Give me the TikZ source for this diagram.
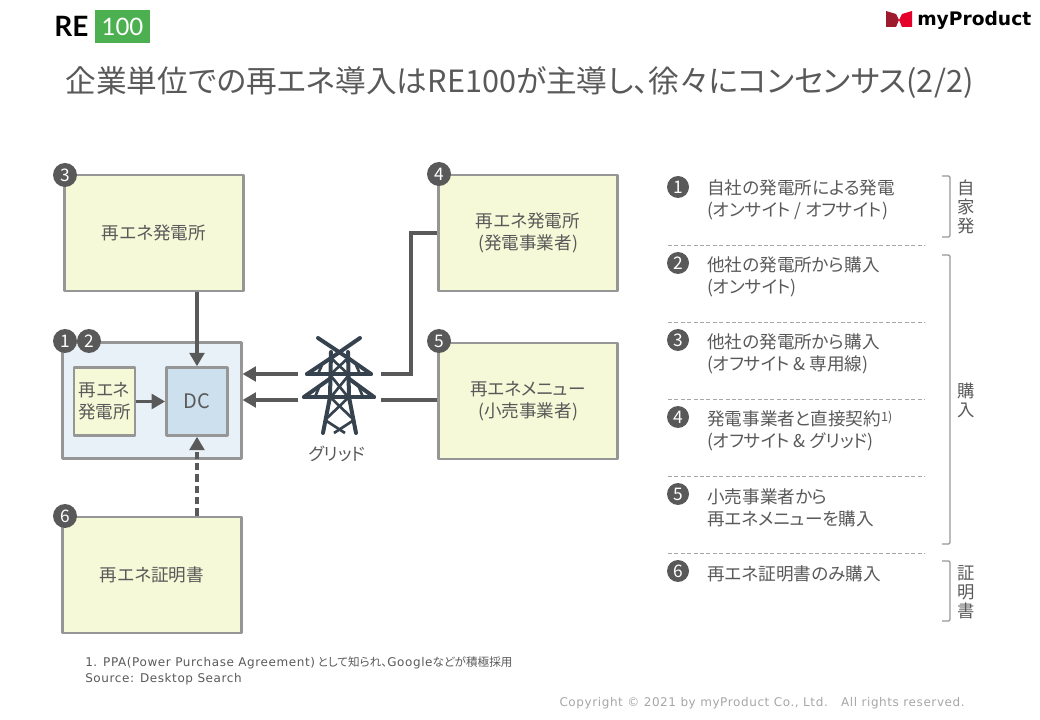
\documentclass[tikz,border=0pt]{standalone}
\usepackage{fontspec}
\setmainfont[RawFeature=+palt]{Noto Sans CJK JP}
\newfontfamily\latinfont[LetterSpace=5]{DejaVu Sans}
\newfontfamily\productfont{DejaVu Sans}
\newfontfamily\logofont{Lato}
\usetikzlibrary{arrows.meta}
\definecolor{inkgray}{HTML}{595959}
\definecolor{edgegray}{HTML}{969696}
\definecolor{sepgray}{HTML}{A6A6A6}
\definecolor{plantfill}{HTML}{F5F9D8}
\definecolor{sitefill}{HTML}{E8F1F7}
\definecolor{dcfill}{HTML}{CCE0EE}
\definecolor{towerink}{HTML}{36434F}
\definecolor{logogreen}{HTML}{4CAF50}
\definecolor{bowleft}{HTML}{9E1B2E}
\definecolor{bowright}{HTML}{E4002B}
\tikzset{
  bodytext/.style={text=inkgray, inner sep=0pt, align=center, font=\fontsize{13.2}{16.5}\selectfont},
  listtext/.style={bodytext, anchor=west, align=left},
  sidetext/.style={text=inkgray, inner sep=0pt, align=center, font=\fontsize{13}{14.25}\selectfont},
  plantbox/.style={bodytext, draw=edgegray, fill=plantfill, line width=1.9pt, line join=round, minimum width=134pt, minimum height=87pt},
  smallbox/.style={bodytext, draw=edgegray, line width=1.9pt, line join=round, minimum width=46pt, minimum height=51pt},
  badge/.style={circle, fill=inkgray, text=white, inner sep=0pt, font=\fontsize{13}{13}\selectfont},
  feed/.style={draw=inkgray, line width=2.4pt},
  feedarrow/.style={feed, -{Triangle[length=10pt,width=11pt]}},
  sepline/.style={draw=sepgray, line width=0.6pt, dash pattern=on 3pt off 1.8pt},
  bracket/.style={draw=edgegray, line width=0.9pt, rounded corners=1pt},
  towerline/.style={draw=towerink, line width=3pt, line cap=round, line join=round},
  towerbrace/.style={draw=towerink, line width=2pt},
  smallnote/.style={text=inkgray, inner sep=0pt, anchor=west, font=\fontsize{8.7}{8.7}\selectfont},
}
\begin{document}
\begin{tikzpicture}[x=0.75pt,y=-0.75pt]
\useasboundingbox (0,0) rectangle (1040,720);
\node[inner sep=0pt, anchor=west, font=\logofont\bfseries\fontsize{21}{21}\selectfont] (logore) at (54,26) {RE};
\node[fill=logogreen, text=white, inner sep=0pt, minimum width=41pt, minimum height=25pt, font=\logofont\fontsize{18}{18}\selectfont] (logohundred) at (122.5,26.5) {100};
\fill[bowleft] (886,11) -- (896,14) -- (899,20) -- (896,27) -- (886,27) -- cycle;
\fill[bowright] (912,11) -- (902,14) -- (899,20) -- (902,27) -- (912,27) -- cycle;
\node[inner sep=0pt, anchor=west, font=\productfont\bfseries\fontsize{14}{14}\selectfont] (logoproduct) at (917,20) {myProduct};
\node[text=inkgray, inner sep=0pt, font=\fontsize{23}{23}\selectfont] (title) at (519.5,83) {企業単位での再エネ導入はRE100が主導し、徐々にコンセンサス(2/2)};

\node[plantbox] (plantc) at (154,233) {再エネ発電所};
\node[plantbox] (plantd) at (528,233) {再エネ発電所\\(発電事業者)};
\node[plantbox] (menue) at (528,401) {再エネメニュー\\(小売事業者)};
\node[plantbox] (certf) at (152,575) {再エネ証明書};
\node[draw=edgegray, fill=sitefill, line width=1.9pt, line join=round, minimum width=134pt, minimum height=87pt] (site) at (152,400.5) {};
\node[smallbox, fill=plantfill] (sitepv) at (104.5,401.5) {再エネ\\発電所};
\node[smallbox, fill=dcfill, font=\fontsize{15}{15}\selectfont] (dc) at (197,401.5) {DC};

\coordinate (gridupper) at (298,374);
\coordinate (gridlower) at (298,400);
\coordinate (feedupper) at (381,374);
\coordinate (feedlower) at (381,400);
\coordinate (feedbend) at (411,374);
\draw[feedarrow] (plantc.south -| dc.north) -- (dc.north);
\draw[feedarrow] (sitepv) ++(31,0) -- (dc.west);
\draw[feedarrow, dash pattern=on 5.5pt off 3pt] (certf.north -| dc.south) -- (dc.south);
\draw[feedarrow] (gridupper) -- (site.east |- gridupper);
\draw[feedarrow] (gridlower) -- (site.east |- gridlower);
\draw[feed] (feedupper) -- (feedbend) -- (feedbend |- plantd.west) -- (plantd.west);
\draw[feed] (feedlower) -- (feedlower -| menue.west);

\draw[towerline] (318,338) -- (348,358);
\draw[towerline] (360,338) -- (331,358);
\draw[towerline] (331,352) -- (330,397) -- (323,433);
\draw[towerline] (348,352) -- (349,397) -- (356,433);
\draw[towerline] (307,374) -- (371,374);
\draw[towerline] (304,397) -- (374,397);
\draw[towerline] (307,374) -- (331,358);
\draw[towerline] (371,374) -- (348,358);
\draw[towerline] (304,397) -- (331,378);
\draw[towerline] (374,397) -- (348,378);
\draw[towerbrace] (331,358) -- (348,374);
\draw[towerbrace] (348,358) -- (331,374);
\draw[towerbrace] (331,376) -- (348,397);
\draw[towerbrace] (348,376) -- (331,397);
\draw[towerbrace] (330,397) -- (354,420);
\draw[towerbrace] (349,397) -- (325,420);
\draw[towerbrace] (325,420) -- (345,433);
\draw[towerbrace] (354,420) -- (334,433);
\draw[towerbrace] (318,374) -- (322,365);
\draw[towerbrace] (360,374) -- (356,365);
\draw[towerbrace] (315,397) -- (320,385);
\draw[towerbrace] (363,397) -- (358,385);
\node[text=inkgray, inner sep=0pt, font=\fontsize{13}{13}\selectfont] (gridlabel) at (337,454) {グリッド};

\node[badge, minimum size=18pt] (tagc) at (65,175) {3};
\node[badge, minimum size=18pt] (tagd) at (439,174) {4};
\node[badge, minimum size=18pt] (taga) at (65,341) {1};
\node[badge, minimum size=18pt] (tagb) at (89,341) {2};
\node[badge, minimum size=18pt] (tage) at (439,341) {5};
\node[badge, minimum size=18pt] (tagf) at (65,516) {6};

\node[badge, minimum size=16.5pt] (listtaga) at (678,187) {1};
\node[listtext] (lista) at (707,200) {自社の発電所による発電\\(オンサイト / オフサイト)};
\node[badge, minimum size=16.5pt] (listtagb) at (678,263) {2};
\node[listtext] (listb) at (707,277) {他社の発電所から購入\\(オンサイト)};
\node[badge, minimum size=16.5pt] (listtagc) at (678,340) {3};
\node[listtext] (listc) at (707,354) {他社の発電所から購入\\(オフサイト \& 専用線)};
\node[badge, minimum size=16.5pt] (listtagd) at (678,417) {4};
\node[listtext] (listd) at (707,431) {発電事業者と直接契約\raisebox{0.5ex}{\fontsize{9.5}{9.5}\selectfont 1)}\\(オフサイト \& グリッド)};
\node[badge, minimum size=16.5pt] (listtage) at (678,494) {5};
\node[listtext] (liste) at (707,508) {小売事業者から\\再エネメニューを購入};
\node[badge, minimum size=16.5pt] (listtagf) at (678,571) {6};
\node[listtext] (listf) at (707,574) {再エネ証明書のみ購入};

\draw[sepline] (668,245) -- (925,245);
\draw[sepline] (668,322) -- (925,322);
\draw[sepline] (668,399) -- (925,399);
\draw[sepline] (668,476) -- (925,476);
\draw[sepline] (668,553) -- (925,553);

\draw[bracket] (942,176) -- (950,176) -- (950,237) -- (942,237);
\draw[bracket] (942,255) -- (950,255) -- (950,544) -- (942,544);
\draw[bracket] (942,561) -- (950,561) -- (950,621) -- (942,621);
\node[sidetext] (sidea) at (966,207) {自\\家\\発};
\node[sidetext] (sideb) at (966,400) {購\\入};
\node[sidetext] (sidec) at (966,592) {証\\明\\書};

\node[smallnote] (footnote) at (85,663) {{\latinfont\fontsize{9}{9}\selectfont 1. PPA(Power Purchase Agreement)} として知られ、{\latinfont\fontsize{9}{9}\selectfont Google}などが積極採用};
\node[smallnote] (source) at (85,679) {\latinfont\fontsize{9}{9}\selectfont Source: Desktop Search};
\node[text=sepgray, inner sep=0pt, anchor=east, font=\latinfont\fontsize{9}{9}\selectfont] (copyright) at (965,703) {Copyright © 2021 by myProduct Co., Ltd.~~~All rights reserved.};
\end{tikzpicture}
\end{document}
